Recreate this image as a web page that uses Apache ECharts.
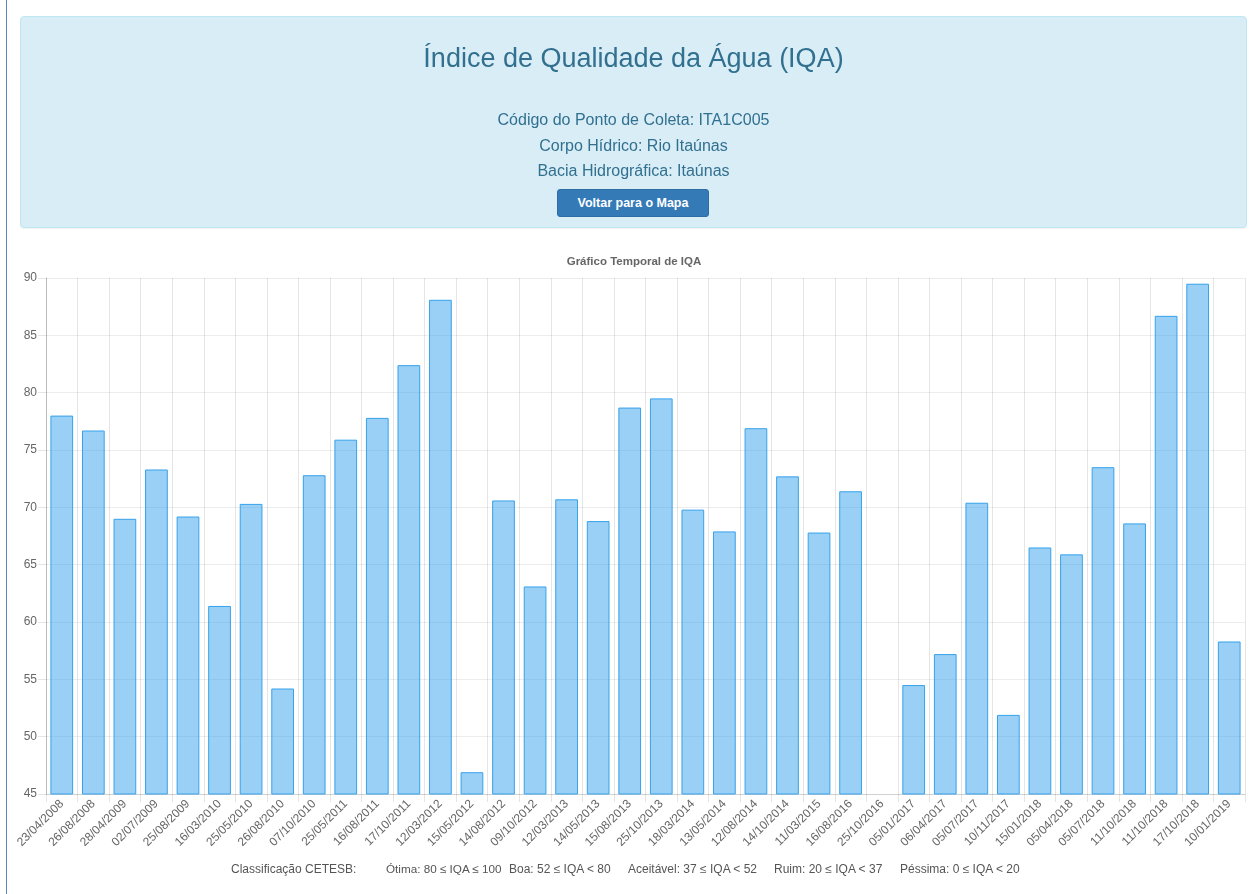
<!DOCTYPE html>
<html>
<head>
<meta charset="utf-8">
<script src="https://cdn.jsdelivr.net/npm/echarts@6/dist/echarts.min.js"></script>
<style>
html,body{margin:0;padding:0;width:1255px;height:894px;overflow:hidden;background:#fff;font-family:"Liberation Sans",Arial,Helvetica,sans-serif;}
#chart{position:absolute;left:0;top:0;width:1255px;height:894px;}
#leftline{position:absolute;left:6px;top:0;width:1px;height:894px;background:#5a86b8;}
#panel{position:absolute;left:20px;top:16px;width:1225px;height:210px;background:#d9edf7;border:1px solid #bce8f1;border-radius:4px;color:#31708f;box-shadow:0 1px 1px rgba(0,0,0,.05);}
#panel .t{position:absolute;left:0;right:0;text-align:center;white-space:nowrap;}
#h1{top:26px;font-size:27px;line-height:30px;}
.l{font-size:16px;line-height:20px;}
#btn{position:absolute;left:536px;top:172px;width:150px;height:26px;background:#337ab7;border:1px solid #2e6da4;border-radius:3px;color:#fff;font-weight:bold;font-size:12.5px;line-height:26px;text-align:center;}
#legend span{position:absolute;top:861px;font-size:12px;line-height:16px;color:#555;white-space:nowrap;}
</style>
</head>
<body>
<div id="leftline"></div>
<div id="chart"></div>
<div id="panel">
  <div class="t" id="h1">Índice de Qualidade da Água (IQA)</div>
  <div class="t l" style="top:93px">Código do Ponto de Coleta: ITA1C005</div>
  <div class="t l" style="top:119px">Corpo Hídrico: Rio Itaúnas</div>
  <div class="t l" style="top:144px">Bacia Hidrográfica: Itaúnas</div>
  <div id="btn">Voltar para o Mapa</div>
</div>
<div id="legend"><span style="left:231px">Classificação CETESB:</span><span style="left:386px;font-size:11.7px">Ótima: 80 ≤ IQA ≤ 100</span><span style="left:509px">Boa: 52 ≤ IQA &lt; 80</span><span style="left:628px">Aceitável: 37 ≤ IQA &lt; 52</span><span style="left:774px">Ruim: 20 ≤ IQA &lt; 37</span><span style="left:900px">Péssima: 0 ≤ IQA &lt; 20</span></div>
<script>
const dates = ["23/04/2008","26/08/2008","28/04/2009","02/07/2009","25/08/2009","16/03/2010","25/05/2010","26/08/2010","07/10/2010","25/05/2011","16/08/2011","17/10/2011","12/03/2012","15/05/2012","14/08/2012","09/10/2012","12/03/2013","14/05/2013","15/08/2013","25/10/2013","18/03/2014","13/05/2014","12/08/2014","14/10/2014","11/03/2015","16/08/2016","25/10/2016","05/01/2017","06/04/2017","05/07/2017","10/11/2017","15/01/2018","05/04/2018","05/07/2018","11/10/2018","11/10/2018","17/10/2018","10/01/2019"];
const iqa = [78.0,76.7,69.0,73.3,69.2,61.4,70.3,54.2,72.8,75.9,77.8,82.4,88.1,46.9,70.6,63.1,70.7,68.8,78.7,79.5,69.8,67.9,76.9,72.7,67.8,71.4,null,54.5,57.2,70.4,51.9,66.5,65.9,73.5,68.6,86.7,89.5,58.3];
const yMin = 45, yMax = 90, yStep = 5;
const chartTitle = "Gráfico Temporal de IQA";

const chart = echarts.init(document.getElementById('chart'), null, {renderer:'canvas'});
const font = '"Liberation Sans", Arial, Helvetica, sans-serif';
const lineCol = 'rgba(0,0,0,0.1)';
chart.setOption({
  animation:false,
  textStyle:{fontFamily:font},
  title:{text:chartTitle,left:634,top:256,padding:0,textAlign:'center',
    textStyle:{fontSize:11.5,fontWeight:'bold',color:'#666',fontFamily:font}},
  grid:{left:46,right:10,top:278,bottom:100,containLabel:false},
  xAxis:{type:'category',data:dates,boundaryGap:true,
    axisLine:{lineStyle:{color:'rgba(0,0,0,0.12)'}},
    axisTick:{show:true,length:8,lineStyle:{color:lineCol}},
    splitLine:{show:true,lineStyle:{color:lineCol}},
    axisLabel:{rotate:45,interval:0,margin:8,fontSize:12,color:'#666',fontFamily:font}},
  yAxis:{type:'value',min:yMin,max:yMax,interval:yStep,
    axisLine:{show:true,lineStyle:{color:'rgba(0,0,0,0.18)'}},
    axisTick:{show:true,length:8,lineStyle:{color:lineCol}},
    splitLine:{show:true,lineStyle:{color:'rgba(0,0,0,0.07)'}},
    axisLabel:{margin:9,fontSize:12,color:'#666',fontFamily:font}},
  series:[{type:'bar',data:iqa,barCategoryGap:'28%',
    itemStyle:{color:'rgba(54,162,235,0.5)',borderColor:'rgb(54,162,235)',borderWidth:1}}]
});
</script>
</body>
</html>
